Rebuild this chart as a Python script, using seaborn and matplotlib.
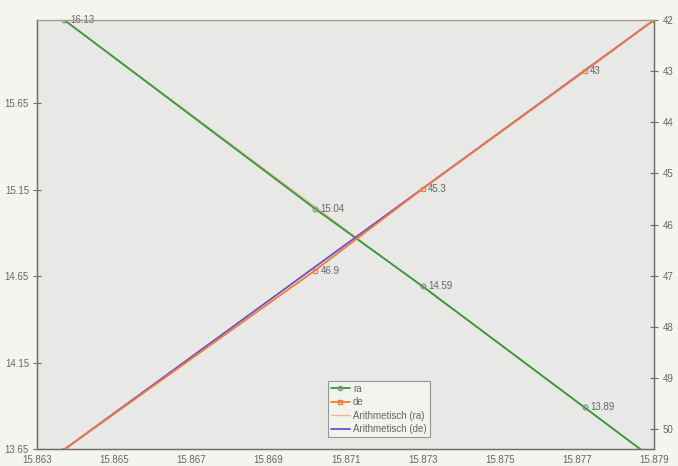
import numpy as np
import pandas as pd
import seaborn as sns
import matplotlib.pyplot as plt
from matplotlib.lines import Line2D

# values
x_vals = [15.8637, 15.8702, 15.8730, 15.8772, 15.8790]
ra_vals = [16.13, 15.04, 14.59, 13.89, 13.59]
de_vals = [50.4, 46.9, 45.3, 43.0, 42.0]
ra_labels = ['16.13', '15.04', '14.59', '13.89', '']
de_labels = ['50.4', '46.9', '45.3', '43', '']
arith_x = [15.8637, 15.8790]
arith_ra = [16.13, 13.59]
arith_de = [50.4, 42.0]

x_ticks = [15.863, 15.865, 15.867, 15.869, 15.871, 15.873, 15.875, 15.877, 15.879]
left_ticks = [13.65, 14.15, 14.65, 15.15, 15.65]
right_ticks = [42, 43, 44, 45, 46, 47, 48, 49, 50]

df = pd.DataFrame({'x': x_vals, 'ra': ra_vals, 'de': de_vals})
arith = pd.DataFrame({'x': arith_x, 'ra': arith_ra, 'de': arith_de})

sns.set_style('white')
plt.rcParams['font.family'] = ['Liberation Sans', 'DejaVu Sans']

green = '#2f9a3a'
orange = '#f47a35'
light_orange = '#f6b48a'
purple = '#6a52c4'
txt = '#666666'
spine_c = '#6e6e6e'

fig = plt.figure(figsize=(6.78, 4.66), dpi=100)
fig.patch.set_facecolor('#f2f6ee')
ax = fig.add_axes([37.3 / 678, 1 - 449 / 466, (654 - 37.3) / 678, 429 / 466])
ax.set_facecolor('#e8e8e6')

sns.lineplot(data=arith, x='x', y='ra', ax=ax, color=light_orange, lw=1.0,
             sort=False, estimator=None)
sns.lineplot(data=df, x='x', y='ra', ax=ax, color=green, lw=1.3, sort=False,
             estimator=None, marker='o', markersize=3.5, markerfacecolor='none',
             markeredgecolor='#888888', markeredgewidth=0.8)
for xv, yv, lab in zip(x_vals, ra_vals, ra_labels):
    ax.annotate(lab, (xv, yv), xytext=(4, 0), textcoords='offset points',
                fontsize=7, color=txt, va='center', ha='left')

ax2 = ax.twinx()
sns.lineplot(data=arith, x='x', y='de', ax=ax2, color=purple, lw=1.3,
             sort=False, estimator=None)
sns.lineplot(data=df, x='x', y='de', ax=ax2, color=orange, lw=1.3, sort=False,
             estimator=None, marker='s', markersize=3.5, markerfacecolor='none',
             markeredgecolor=orange, markeredgewidth=0.8)
for xv, yv, lab in zip(x_vals, de_vals, de_labels):
    ax2.annotate(lab, (xv, yv), xytext=(4, 0), textcoords='offset points',
                 fontsize=7, color=txt, va='center', ha='left')

ax.set_xlim(15.863, 15.879)
ax.set_ylim(13.65, 16.13)
ax2.set_ylim(50.39, 42.0)

ax.set_xticks(x_ticks)
ax.set_xticklabels([f'{t:.3f}' for t in x_ticks])
ax.set_yticks(left_ticks)
ax.set_yticklabels([f'{t:.2f}' for t in left_ticks])
ax2.set_yticks(right_ticks)
ax2.set_yticklabels([str(t) for t in right_ticks])
ax.set_xlabel('')
ax.set_ylabel('')
ax2.set_ylabel('')

for a in (ax, ax2):
    a.tick_params(direction='inout', length=6, width=0.8, colors=spine_c,
                  labelcolor=txt, labelsize=7, pad=3)
    for s in a.spines.values():
        s.set_color(spine_c)
        s.set_linewidth(0.9)
    a.spines['top'].set_color('#a89c98')
ax.tick_params(axis='x', pad=1)
ax.tick_params(axis='y', right=False)
ax2.tick_params(axis='y', left=False)

handles = [
    Line2D([], [], color=green, lw=1.3, marker='o', markersize=3,
           markerfacecolor='none', markeredgecolor='#888888'),
    Line2D([], [], color=orange, lw=1.3, marker='s', markersize=3,
           markerfacecolor='none', markeredgecolor=orange),
    Line2D([], [], color=light_orange, lw=1.0),
    Line2D([], [], color=purple, lw=1.3),
]
labels = ['ra', 'de', 'Arithmetisch (ra)', 'Arithmetisch (de)']
leg = ax2.legend(handles, labels, loc='lower left', bbox_to_anchor=(0.471, 0.028),
                 fontsize=7, frameon=True, fancybox=False, handlelength=2.0,
                 handletextpad=0.3, borderpad=0.3, labelspacing=0.35,
                 borderaxespad=0)
leg.get_frame().set_facecolor('#f4f7f0')
leg.get_frame().set_edgecolor('#808080')
leg.get_frame().set_linewidth(0.8)
for t in leg.get_texts():
    t.set_color(txt)

fig.savefig('out.png', dpi=100, facecolor=fig.get_facecolor())
